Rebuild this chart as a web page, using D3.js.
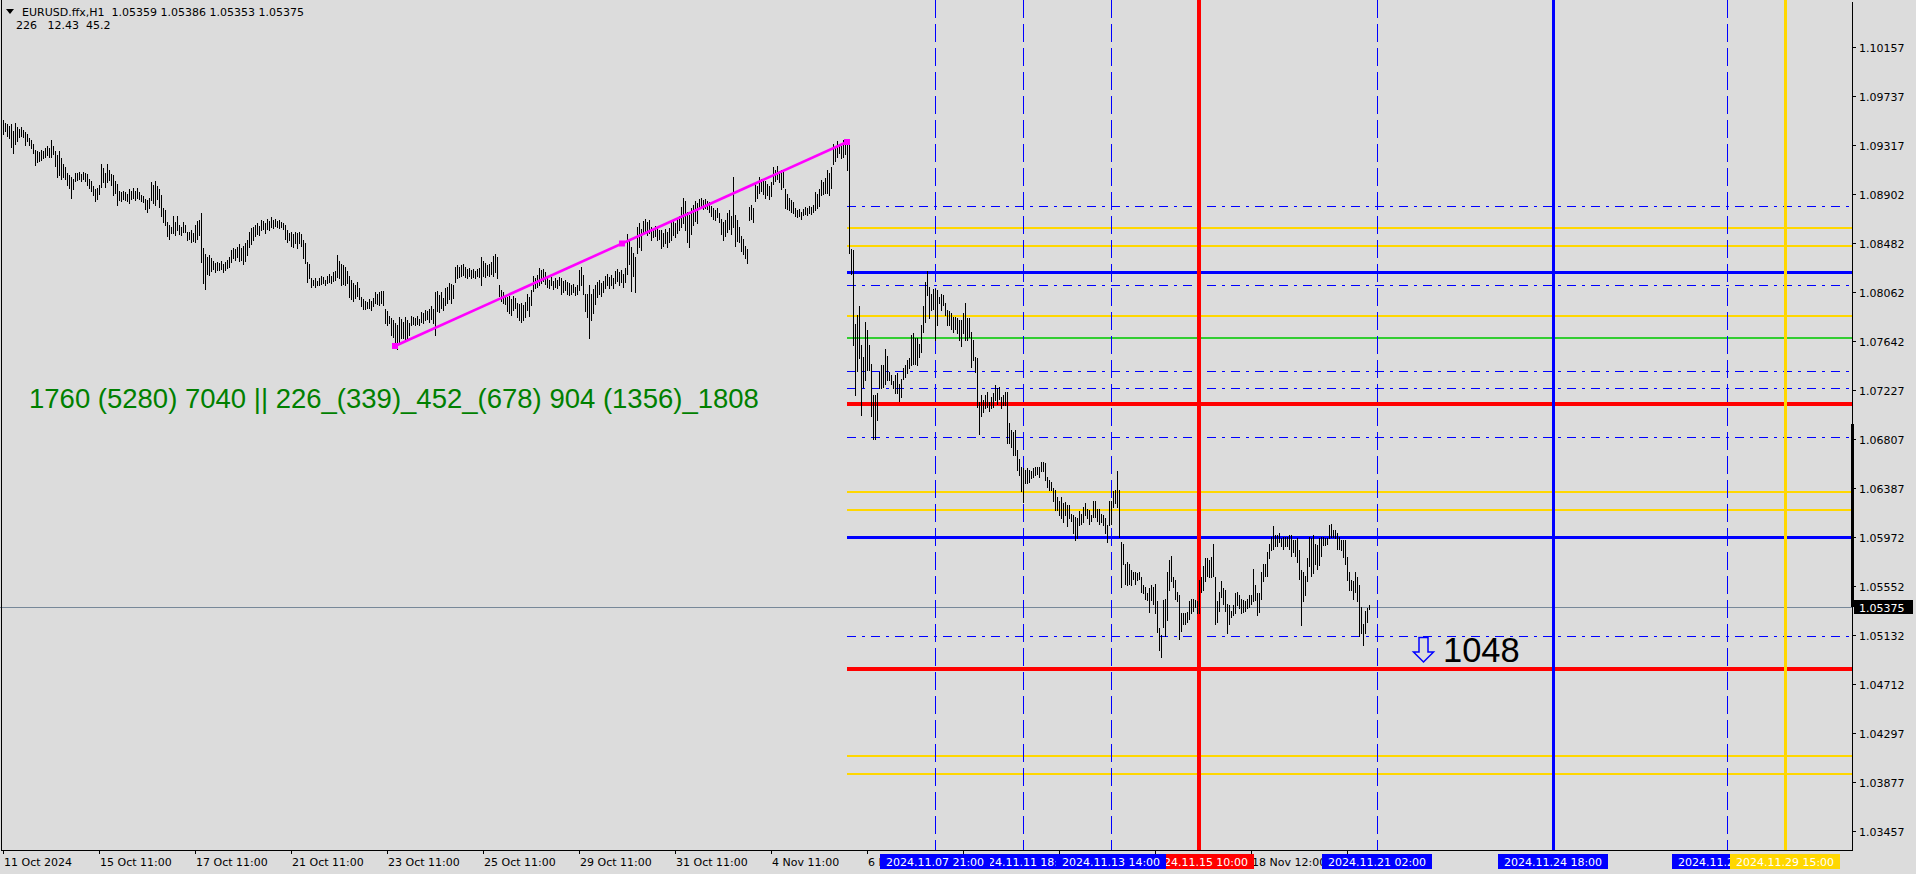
<!DOCTYPE html>
<html><head><meta charset="utf-8">
<script src="https://cdn.jsdelivr.net/npm/d3@7"></script>
<style>html,body{margin:0;padding:0;background:#DCDCDC;overflow:hidden}svg{display:block}text{white-space:pre}</style>
</head><body><svg id="c" width="1916" height="874"></svg>
<script>
// ---------------- DATA ----------------
const headerLine1 = "EURUSD.ffx,H1  1.05359 1.05386 1.05353 1.05375";
const headerLine2 = "226   12.43  45.2";
const priceTicks = ["1.10157","1.09737","1.09317","1.08902","1.08482","1.08062","1.07642","1.07227","1.06807","1.06387","1.05972","1.05552","1.05132","1.04712","1.04297","1.03877","1.03457"];
const timeTicks = ["11 Oct 2024","15 Oct 11:00","17 Oct 11:00","21 Oct 11:00","23 Oct 11:00","25 Oct 11:00","29 Oct 11:00","31 Oct 11:00","4 Nov 11:00","6 Nov 11:00","8 Nov 11:00","12 Nov 11:00","14 Nov 11:00","18 Nov 12:00","20 Nov 12:00"];
const barsPerTick = 48;
const currentPrice = 1.05375;
const highs = [
1.0953,1.0951,1.0950,1.0948,1.0950,1.0944,1.0951,1.0947,1.0946,1.0947,1.0945,1.0943,
1.0941,1.0938,1.0936,1.0933,1.0928,1.0927,1.0926,1.0928,1.0927,1.0929,1.0931,1.0929,
1.0936,1.0931,1.0927,1.0923,1.0927,1.0921,1.0916,1.0913,1.0908,1.0906,1.0905,1.0903,
1.0908,1.0908,1.0909,1.0907,1.0909,1.0908,1.0907,1.0903,1.0901,1.0897,1.0894,1.0895,
1.0898,1.0916,1.0912,1.0908,1.0916,1.0911,1.0907,1.0906,1.0901,1.0899,1.0893,1.0892,
1.0893,1.0892,1.0890,1.0894,1.0893,1.0895,1.0893,1.0895,1.0892,1.0889,1.0888,1.0886,
1.0885,1.0887,1.0900,1.0898,1.0901,1.0897,1.0894,1.0889,1.0878,1.0876,1.0866,1.0864,
1.0862,1.0871,1.0866,1.0871,1.0864,1.0862,1.0866,1.0864,1.0858,1.0858,1.0859,1.0857,
1.0864,1.0867,1.0868,1.0874,1.0844,1.0839,1.0836,1.0838,1.0835,1.0833,1.0831,1.0832,
1.0831,1.0833,1.0830,1.0832,1.0834,1.0836,1.0842,1.0844,1.0843,1.0845,1.0847,1.0844,
1.0846,1.0848,1.0851,1.0858,1.0861,1.0862,1.0864,1.0865,1.0863,1.0868,1.0867,1.0865,
1.0869,1.0867,1.0870,1.0868,1.0869,1.0867,1.0868,1.0866,1.0865,1.0864,1.0859,1.0857,
1.0858,1.0856,1.0858,1.0857,1.0858,1.0856,1.0851,1.0848,1.0832,1.0830,1.0818,1.0817,
1.0818,1.0816,1.0818,1.0820,1.0819,1.0817,1.0820,1.0822,1.0820,1.0823,1.0824,1.0838,
1.0833,1.0830,1.0829,1.0828,1.0824,1.0820,1.0817,1.0814,1.0812,1.0815,1.0810,1.0802,
1.0800,1.0799,1.0798,1.0800,1.0799,1.0801,1.0806,1.0805,1.0806,1.0807,1.0807,1.0792,
1.0790,1.0786,1.0784,1.0782,1.0780,1.0778,1.0785,1.0783,1.0781,1.0785,1.0782,1.0780,
1.0786,1.0785,1.0784,1.0786,1.0783,1.0789,1.0788,1.0791,1.0790,1.0792,1.0794,1.0792,
1.0806,1.0807,1.0804,1.0806,1.0801,1.0810,1.0811,1.0814,1.0813,1.0812,1.0828,1.0829,
1.0828,1.0829,1.0830,1.0828,1.0826,1.0827,1.0825,1.0826,1.0824,1.0826,1.0827,1.0836,
1.0833,1.0831,1.0829,1.0830,1.0832,1.0837,1.0839,1.0836,1.0812,1.0808,1.0806,1.0804,
1.0802,1.0803,1.0800,1.0803,1.0801,1.0797,1.0796,1.0797,1.0795,1.0798,1.0805,1.0802,
1.0808,1.0820,1.0818,1.0821,1.0827,1.0825,1.0826,1.0823,1.0818,1.0817,1.0819,1.0816,
1.0818,1.0817,1.0819,1.0818,1.0816,1.0817,1.0815,1.0814,1.0812,1.0813,1.0811,1.0812,
1.0825,1.0828,1.0821,1.0805,1.0805,1.0812,1.0805,1.0809,1.0812,1.0815,1.0817,1.0814,
1.0816,1.0820,1.0822,1.0819,1.0821,1.0818,1.0824,1.0826,1.0823,1.0825,1.0822,1.0827,
1.0856,1.0852,1.0845,1.0840,1.0836,1.0862,1.0865,1.0860,1.0867,1.0869,1.0866,1.0868,
1.0862,1.0860,1.0863,1.0861,1.0859,1.0859,1.0857,1.0860,1.0858,1.0861,1.0866,1.0868,
1.0865,1.0869,1.0871,1.0879,1.0887,1.0884,1.0875,1.0872,1.0878,1.0881,1.0884,1.0882,
1.0886,1.0887,1.0885,1.0886,1.0884,1.0883,1.0880,1.0878,1.0876,1.0878,1.0874,1.0869,
1.0866,1.0868,1.0874,1.0876,1.0871,1.0905,1.0872,1.0868,1.0862,1.0854,1.0852,1.0846,
1.0843,1.0879,1.0881,1.0878,1.0899,1.0897,1.0905,1.0903,1.0901,1.0901,1.0899,1.0897,
1.0900,1.0913,1.0911,1.0914,1.0910,1.0911,1.0909,1.0894,1.0890,1.0887,1.0885,1.0883,
1.0878,1.0876,1.0877,1.0875,1.0877,1.0879,1.0878,1.0880,1.0879,1.0881,1.0892,1.0890,
1.0894,1.0902,1.0900,1.0904,1.0911,1.0908,1.0913,1.0933,1.0930,1.0935,1.0933,1.0931,
1.0936,1.0934,1.0936,1.0932,1.0843,1.0842,1.0779,1.0787,1.0794,1.0761,1.0751,1.0781,
1.0774,1.0761,1.0745,1.0718,1.0718,1.0720,1.0738,1.0744,1.0744,1.0758,1.0752,1.0738,
1.0735,1.0730,1.0735,1.0737,1.0728,1.0732,1.0741,1.0744,1.0748,1.0750,1.0770,1.0771,
1.0767,1.0767,1.0762,1.0778,1.0794,1.0815,1.0824,1.0811,1.0805,1.0809,1.0809,1.0808,
1.0802,1.0805,1.0804,1.0797,1.0791,1.0790,1.0788,1.0785,1.0785,1.0784,1.0782,1.0782,
1.0788,1.0797,1.0784,1.0784,1.0772,1.0765,1.0751,1.0750,1.0712,1.0718,1.0714,1.0718,
1.0721,1.0712,1.0717,1.0720,1.0727,1.0724,1.0725,1.0717,1.0718,1.0721,1.0721,1.0694,
1.0688,1.0687,1.0688,1.0671,1.0664,1.0657,1.0656,1.0654,1.0656,1.0654,1.0653,1.0656,
1.0657,1.0657,1.0657,1.0661,1.0661,1.0660,1.0648,1.0646,1.0644,1.0639,1.0637,1.0631,
1.0628,1.0631,1.0626,1.0627,1.0624,1.0624,1.0617,1.0616,1.0614,1.0613,1.0619,1.0617,
1.0623,1.0626,1.0621,1.0620,1.0616,1.0628,1.0628,1.0621,1.0621,1.0617,1.0616,1.0613,
1.0607,1.0628,1.0628,1.0636,1.0637,1.0653,1.0637,1.0593,1.0591,1.0574,1.0576,1.0574,
1.0569,1.0567,1.0567,1.0566,1.0567,1.0563,1.0556,1.0554,1.0549,1.0553,1.0556,1.0554,
1.0557,1.0542,1.0519,1.0513,1.0543,1.0544,1.0567,1.0577,1.0581,1.0563,1.0560,1.0550,
1.0547,1.0532,1.0532,1.0532,1.0533,1.0542,1.0544,1.0544,1.0543,1.0542,1.0560,1.0563,
1.0572,1.0579,1.0579,1.0577,1.0580,1.0591,1.0563,1.0542,1.0550,1.0559,1.0553,1.0552,
1.0540,1.0539,1.0534,1.0539,1.0549,1.0550,1.0547,1.0544,1.0543,1.0542,1.0544,1.0547,
1.0547,1.0570,1.0556,1.0549,1.0549,1.0567,1.0574,1.0574,1.0584,1.0591,1.0597,1.0606,
1.0599,1.0599,1.0600,1.0596,1.0597,1.0597,1.0597,1.0599,1.0599,1.0594,1.0594,1.0596,
1.0586,1.0569,1.0567,1.0564,1.0579,1.0597,1.0596,1.0599,1.0591,1.0590,1.0596,1.0597,
1.0597,1.0596,1.0596,1.0607,1.0608,1.0603,1.0603,1.0600,1.0597,1.0594,1.0594,1.0594,
1.0580,1.0567,1.0560,1.0559,1.0567,1.0563,1.0556,1.0537,1.0523,1.0534,1.0536,1.05386];
const lows = [
1.0941,1.0944,1.0940,1.0938,1.0930,1.0925,1.0933,1.0935,1.0939,1.0940,1.0939,1.0932,
1.0935,1.0932,1.0929,1.0925,1.0915,1.0917,1.0918,1.0919,1.0921,1.0922,1.0923,1.0922,
1.0922,1.0924,1.0914,1.0905,1.0906,1.0903,1.0905,1.0903,1.0898,1.0895,1.0887,1.0894,
1.0901,1.0902,1.0903,1.0901,1.0903,1.0901,1.0898,1.0895,1.0893,1.0889,1.0884,1.0886,
1.0890,1.0896,1.0900,1.0896,1.0900,1.0902,1.0898,1.0889,1.0891,1.0881,1.0885,1.0884,
1.0886,1.0885,1.0884,1.0882,1.0886,1.0887,1.0885,1.0887,1.0886,1.0884,1.0883,1.0877,
1.0875,1.0878,1.0885,1.0882,1.0881,1.0886,1.0879,1.0871,1.0866,1.0864,1.0854,1.0852,
1.0857,1.0857,1.0855,1.0859,1.0856,1.0855,1.0858,1.0858,1.0851,1.0852,1.0849,1.0850,
1.0849,1.0852,1.0855,1.0832,1.0814,1.0809,1.0822,1.0821,1.0824,1.0826,1.0823,1.0825,
1.0825,1.0826,1.0823,1.0825,1.0827,1.0828,1.0832,1.0835,1.0834,1.0836,1.0833,1.0834,
1.0830,1.0833,1.0838,1.0845,1.0847,1.0851,1.0854,1.0856,1.0855,1.0859,1.0860,1.0857,
1.0860,1.0859,1.0862,1.0861,1.0863,1.0862,1.0861,1.0862,1.0860,1.0852,1.0849,1.0851,
1.0846,1.0845,1.0848,1.0844,1.0848,1.0846,1.0835,1.0831,1.0815,1.0818,1.0811,1.0812,
1.0811,1.0812,1.0812,1.0813,1.0814,1.0812,1.0814,1.0815,1.0814,1.0816,1.0817,1.0819,
1.0818,1.0812,1.0813,1.0812,1.0814,1.0802,1.0800,1.0799,1.0801,1.0803,1.0800,1.0794,
1.0792,1.0792,1.0793,1.0793,1.0791,1.0794,1.0797,1.0796,1.0795,1.0797,1.0795,1.0780,
1.0778,1.0780,1.0770,1.0768,1.0760,1.0758,1.0764,1.0767,1.0767,1.0765,1.0766,1.0770,
1.0778,1.0779,1.0778,1.0779,1.0778,1.0781,1.0780,1.0782,1.0783,1.0781,1.0783,1.0780,
1.0770,1.0790,1.0789,1.0793,1.0791,1.0795,1.0797,1.0800,1.0797,1.0801,1.0815,1.0818,
1.0819,1.0820,1.0821,1.0819,1.0818,1.0820,1.0818,1.0819,1.0818,1.0820,1.0819,1.0812,
1.0820,1.0819,1.0821,1.0820,1.0822,1.0820,1.0823,1.0818,1.0803,1.0799,1.0797,1.0796,
1.0790,1.0788,1.0787,1.0791,1.0793,1.0785,1.0782,1.0781,1.0782,1.0785,1.0791,1.0786,
1.0795,1.0807,1.0810,1.0811,1.0812,1.0814,1.0816,1.0813,1.0811,1.0810,1.0812,1.0809,
1.0811,1.0810,1.0812,1.0805,1.0806,1.0808,1.0805,1.0804,1.0805,1.0806,1.0804,1.0805,
1.0808,1.0812,1.0805,1.0790,1.0785,1.0767,1.0782,1.0788,1.0796,1.0802,1.0805,1.0803,
1.0806,1.0810,1.0812,1.0810,1.0812,1.0810,1.0814,1.0816,1.0812,1.0815,1.0811,1.0815,
1.0822,1.0830,1.0807,1.0820,1.0806,1.0840,1.0845,1.0842,1.0856,1.0857,1.0855,1.0857,
1.0851,1.0853,1.0854,1.0851,1.0852,1.0844,1.0846,1.0848,1.0845,1.0849,1.0851,1.0855,
1.0853,1.0857,1.0859,1.0862,1.0865,1.0859,1.0849,1.0845,1.0856,1.0864,1.0867,1.0865,
1.0878,1.0879,1.0877,1.0878,1.0877,1.0875,1.0871,1.0869,1.0868,1.0870,1.0866,1.0856,
1.0851,1.0854,1.0858,1.0860,1.0856,1.0862,1.0846,1.0850,1.0849,1.0841,1.0839,1.0835,
1.0831,1.0868,1.0869,1.0866,1.0884,1.0887,1.0891,1.0893,1.0890,1.0887,1.0889,1.0886,
1.0888,1.0899,1.0901,1.0903,1.0900,1.0894,1.0896,1.0878,1.0877,1.0876,1.0875,1.0874,
1.0871,1.0870,1.0871,1.0869,1.0872,1.0873,1.0872,1.0874,1.0873,1.0875,1.0876,1.0878,
1.0880,1.0889,1.0890,1.0891,1.0891,1.0889,1.0895,1.0916,1.0918,1.0922,1.0925,1.0921,
1.0922,1.0924,1.0911,1.0840,1.0822,1.0761,1.0718,1.0739,1.0750,1.0701,1.0725,1.0731,
1.0740,1.0740,1.0700,1.0681,1.0681,1.0697,1.0724,1.0724,1.0725,1.0728,1.0731,1.0731,
1.0728,1.0724,1.0720,1.0720,1.0713,1.0717,1.0732,1.0734,1.0737,1.0741,1.0744,1.0745,
1.0745,1.0744,1.0751,1.0755,1.0772,1.0781,1.0804,1.0784,1.0791,1.0792,1.0765,1.0778,
1.0797,1.0791,1.0795,1.0787,1.0778,1.0778,1.0775,1.0772,1.0775,1.0771,1.0765,1.0760,
1.0771,1.0765,1.0765,1.0768,1.0742,1.0748,1.0738,1.0708,1.0685,1.0700,1.0704,1.0707,
1.0708,1.0705,1.0707,1.0708,1.0714,1.0711,1.0715,1.0707,1.0710,1.0710,1.0677,1.0677,
1.0674,1.0667,1.0667,1.0654,1.0650,1.0636,1.0627,1.0643,1.0643,1.0644,1.0647,1.0648,
1.0650,1.0651,1.0648,1.0653,1.0653,1.0646,1.0640,1.0637,1.0637,1.0628,1.0620,1.0620,
1.0616,1.0613,1.0610,1.0616,1.0606,1.0613,1.0611,1.0600,1.0594,1.0596,1.0607,1.0608,
1.0610,1.0616,1.0613,1.0608,1.0611,1.0614,1.0614,1.0611,1.0608,1.0610,1.0607,1.0600,
1.0593,1.0607,1.0608,1.0623,1.0626,1.0623,1.0597,1.0554,1.0574,1.0557,1.0556,1.0557,
1.0556,1.0561,1.0557,1.0560,1.0561,1.0550,1.0549,1.0544,1.0543,1.0533,1.0543,1.0540,
1.0532,1.0516,1.0500,1.0494,1.0520,1.0512,1.0526,1.0552,1.0559,1.0554,1.0544,1.0542,
1.0510,1.0517,1.0523,1.0523,1.0524,1.0527,1.0532,1.0534,1.0537,1.0532,1.0532,1.0550,
1.0552,1.0559,1.0564,1.0563,1.0563,1.0564,1.0523,1.0524,1.0534,1.0546,1.0540,1.0534,
1.0515,1.0523,1.0529,1.0530,1.0532,1.0539,1.0536,1.0532,1.0533,1.0534,1.0536,1.0537,
1.0540,1.0542,1.0543,1.0530,1.0533,1.0544,1.0559,1.0564,1.0564,1.0579,1.0586,1.0587,
1.0589,1.0589,1.0593,1.0589,1.0587,1.0589,1.0589,1.0587,1.0581,1.0584,1.0581,1.0576,
1.0561,1.0522,1.0542,1.0547,1.0559,1.0572,1.0564,1.0566,1.0574,1.0570,1.0573,1.0581,
1.0590,1.0590,1.0591,1.0596,1.0597,1.0597,1.0596,1.0587,1.0587,1.0586,1.0580,1.0574,
1.0560,1.0552,1.0552,1.0544,1.0550,1.0542,1.0512,1.0515,1.0505,1.0515,1.0524,1.05353];

// horizontal levels (prices) drawn from the anchor bar to the right edge
const levelStartBar = 422;
const dashDotLevels = [1.08798, 1.08121, 1.07391, 1.07240, 1.06827, 1.05123];
const goldLevels = [1.08610, 1.08456, 1.07861, 1.06351, 1.06200, 1.04101, 1.03942];
const blueLevels = [1.08234, 1.05967];
const redLevels = [1.07109, 1.04844];
const greenLevels = [1.07670];

// vertical time lines: bar index + label
const dashedTimes = [{bar:510,label:"2024.11.11 18:00"},{bar:466,label:"2024.11.07 21:00"},{bar:554,label:"2024.11.13 14:00"},{bar:687,label:"2024.11.21 02:00"},{bar:862,label:"2024.11.28 09:00"}];
const redTime = {bar:598,label:"2024.11.15 10:00"};
const blueTime = {bar:775,label:"2024.11.24 18:00"};
const goldTime = {bar:891,label:"2024.11.29 15:00"};

// trend line (bar, price)
const trendPoints = [{bar:196,price:1.07602},{bar:309.5,price:1.08478},{bar:422,price:1.09345}];

const comboText = "1760 (5280) 7040 || 226_(339)_452_(678) 904 (1356)_1808";
const targetText = "1048";
const targetAnchor = {bar:720, price:1.04901};
const arrowAnchor = {bar:704.5, price:1.05115};
const scaleMarkTop = 1.06935;

// ---------------- DRAW ----------------
const svg = d3.select("#c");
const BG = "#DCDCDC";
const plotRight = 1852, plotBottom = 850;
const n = Math.min(highs.length, lows.length);
const x = d3.scaleLinear().domain([0, 900]).range([3, 1803]);
const y = d3.scaleLinear().domain([1.03457, 1.10157]).range([831, 47]);
const FONT = "'DejaVu Sans', Tahoma, sans-serif";

svg.append("rect").attr("width",1916).attr("height",874).attr("fill",BG);

const plot = svg.append("g");
const ry = p => Math.round(y(p));

// current price line
plot.append("line").attr("x1",0).attr("x2",plotRight).attr("y1",ry(currentPrice)+0.5).attr("y2",ry(currentPrice)+0.5)
  .attr("stroke","#778899").attr("stroke-width",1).attr("shape-rendering","crispEdges");

function hLevels(arr, color, width, dash){
  plot.selectAll(null).data(arr).join("line")
    .attr("x1", x(levelStartBar)).attr("x2", plotRight)
    .attr("y1", d => ry(d) + (width%2 ? 0.5 : 0)).attr("y2", d => ry(d) + (width%2 ? 0.5 : 0))
    .attr("stroke", color).attr("stroke-width", width)
    .attr("stroke-dasharray", dash || null).attr("shape-rendering","crispEdges");
}
hLevels(dashDotLevels, "#0000FF", 1, "9,6,3,6");
hLevels(goldLevels, "#FFD700", 2);
hLevels(greenLevels, "#32CD32", 2);
hLevels(blueLevels, "#0000FF", 3);
hLevels(redLevels, "#FF0000", 4);

function vLine(d, color, width, dash){
  const xx = x(d.bar) + (width%2 ? 0.5 : 0);
  plot.append("line").attr("x1",xx).attr("x2",xx).attr("y1",0).attr("y2",plotBottom)
    .attr("stroke",color).attr("stroke-width",width).attr("stroke-dasharray",dash||null)
    .attr("shape-rendering","crispEdges");
}
dashedTimes.forEach(d => vLine(d, "#0000FF", 1, "18,6"));
vLine(redTime, "#FF0000", 4);
vLine(blueTime, "#0000FF", 3);
vLine(goldTime, "#FFD700", 3);

// price bars (high-low)
plot.append("g").selectAll("rect").data(d3.range(n)).join("rect")
  .attr("x", i => x(i)).attr("width", 1)
  .attr("y", i => ry(highs[i]))
  .attr("height", i => Math.max(1, ry(lows[i]) - ry(highs[i]) + 1))
  .attr("fill", "#000").attr("shape-rendering","crispEdges");

// trend line
const tl = trendPoints;
plot.append("line").attr("x1",x(tl[0].bar)).attr("y1",y(tl[0].price)).attr("x2",x(tl[2].bar)).attr("y2",y(tl[2].price))
  .attr("stroke","#FF00FF").attr("stroke-width",2.6);
plot.selectAll(null).data(tl).join("rect")
  .attr("x", d => x(d.bar)-3).attr("y", d => y(d.price)-3).attr("width",6).attr("height",6)
  .attr("fill","#FF00FF");

// texts
svg.append("text").attr("x",29).attr("y",408).attr("fill","#008000")
  .style("font-family","'Liberation Sans', Arial, sans-serif").style("font-size","27.5px").text(comboText);

const ax = x(arrowAnchor.bar), ay = y(arrowAnchor.price);
svg.append("path").attr("transform",`translate(${ax},${ay})`)
  .attr("d","M7,0.5 L16,0.5 L16,15 L21.5,15 L11.5,25 L1.5,15 L7,15 Z")
  .attr("fill","none").attr("stroke","#0000FF").attr("stroke-width",1.5);
svg.append("text").attr("x",x(targetAnchor.bar)).attr("y",y(targetAnchor.price)).attr("fill","#000")
  .style("font-family","'Liberation Sans', Arial, sans-serif").style("font-size","34.5px").text(targetText);

// frame & axes
const axis = svg.append("g").attr("shape-rendering","crispEdges");
axis.append("line").attr("x1",1.5).attr("x2",1.5).attr("y1",0).attr("y2",plotBottom+1).attr("stroke","#000");
axis.append("line").attr("x1",1).attr("x2",plotRight+1).attr("y1",plotBottom+0.5).attr("y2",plotBottom+0.5).attr("stroke","#000");
axis.append("line").attr("x1",plotRight+0.5).attr("x2",plotRight+0.5).attr("y1",2).attr("y2",plotBottom+1).attr("stroke","#000");
axis.append("rect").attr("x",plotRight-1).attr("width",3).attr("y",ry(scaleMarkTop)).attr("height",ry(currentPrice)-ry(scaleMarkTop)).attr("fill","#000");

// price axis ticks
priceTicks.forEach(t => {
  const yy = ry(+t);
  axis.append("line").attr("x1",plotRight).attr("x2",plotRight+4).attr("y1",yy+0.5).attr("y2",yy+0.5).attr("stroke","#000");
  svg.append("text").attr("x",plotRight+7).attr("y",yy+4.5).attr("fill","#000")
    .style("font-family",FONT).style("font-size","11px").text(t);
});

// current price label
axis.append("rect").attr("x",plotRight+2).attr("y",ry(currentPrice)-7).attr("width",59).attr("height",14).attr("fill","#000");
svg.append("text").attr("x",plotRight+7).attr("y",ry(currentPrice)+4.5).attr("fill","#fff")
  .style("font-family",FONT).style("font-size","11px").text(currentPrice.toFixed(5));

// time axis ticks + labels
const timeTexts = [];
timeTicks.forEach((t,i) => {
  const tx = x(i*barsPerTick);
  axis.append("line").attr("x1",tx+0.5).attr("x2",tx+0.5).attr("y1",plotBottom).attr("y2",plotBottom+4).attr("stroke","#000");
  timeTexts.push(svg.append("text").attr("x",tx+1).attr("y",plotBottom+16).attr("fill","#000")
    .style("font-family",FONT).style("font-size","11px").text(t));
});

// vertical line labels on time axis (drawn in stacking order; later boxes hide earlier text)
const labelOrder = [
  {d:dashedTimes[0], bg:"#0000FF"}, {d:redTime, bg:"#FF0000"},
  ...dashedTimes.slice(1).map(d => ({d, bg:"#0000FF"})),
  {d:blueTime, bg:"#0000FF"}, {d:goldTime, bg:"#FFD700"}];
const boxW = 110;
const boxes = labelOrder.map(o => [x(o.d.bar)-boxW/2, x(o.d.bar)+boxW/2]);
const labelTexts = [];
labelOrder.forEach(o => {
  const cx = x(o.d.bar);
  svg.append("rect").attr("x",cx-boxW/2).attr("y",plotBottom+4).attr("width",boxW).attr("height",15).attr("fill",o.bg);
  labelTexts.push(svg.append("text").attr("x",cx).attr("y",plotBottom+16).attr("text-anchor","middle").attr("fill","#fff")
    .style("font-family",FONT).style("font-size","11px").text(o.d.label));
});

// keep only the characters of each text that are not hidden by boxes stacked above it
function trimText(sel, covers){
  const node = sel.node(), s = node.textContent, vis = [];
  for (let i=0;i<s.length;i++){
    const a = node.getStartPositionOfChar(i).x, b = node.getEndPositionOfChar(i).x;
    vis.push(!covers.some(([L,R]) => a >= L-0.01 && b <= R+0.01));
  }
  const i0 = vis.indexOf(true);
  if (i0 < 0){ sel.remove(); return; }
  let i1 = i0; while (i1+1 < s.length && vis[i1+1]) i1++;
  const x0 = node.getStartPositionOfChar(i0).x;
  sel.attr("text-anchor","start").attr("x",x0).text(s.slice(i0,i1+1));
}
timeTexts.forEach(t => trimText(t, boxes));
labelTexts.forEach((t,k) => trimText(t, boxes.slice(k+1)));

// header
svg.append("path").attr("d","M6,9 L14,9 L10,14 Z").attr("fill","#000");
svg.append("text").attr("x",22).attr("y",16).attr("fill","#000").style("font-family",FONT).style("font-size","11px").text(headerLine1);
svg.append("text").attr("x",16).attr("y",29).attr("fill","#000").style("font-family",FONT).style("font-size","11px").text(headerLine2);
</script>
</body></html>
